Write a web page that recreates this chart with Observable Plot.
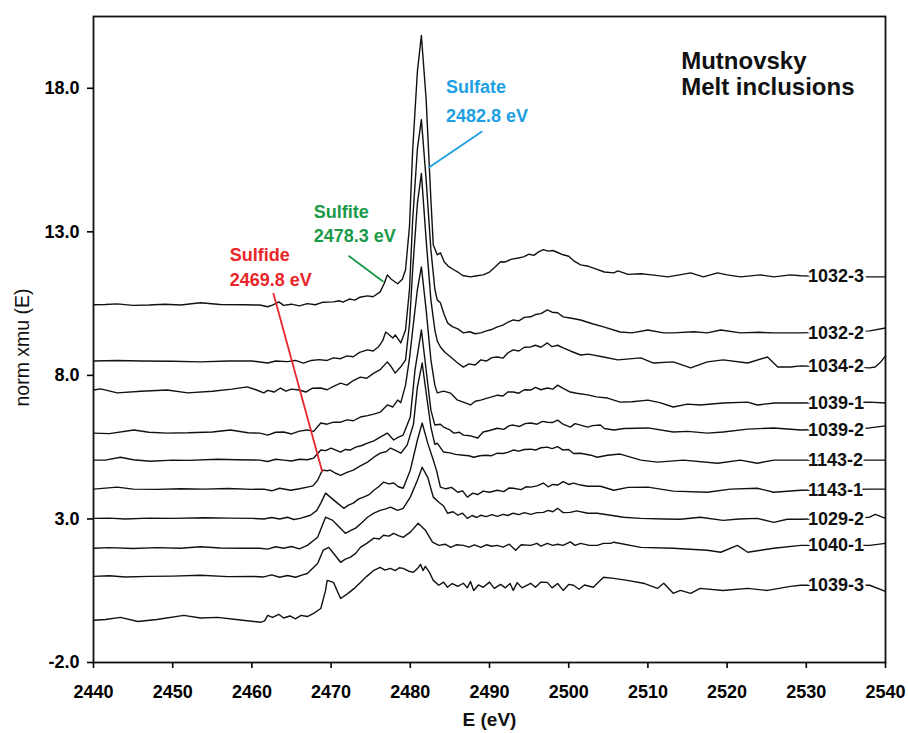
<!DOCTYPE html>
<html>
<head>
<meta charset="utf-8">
<script src="https://cdn.jsdelivr.net/npm/d3@7"></script>
<script src="https://cdn.jsdelivr.net/npm/@observablehq/plot@0.6"></script>
<style>
  html, body { margin: 0; padding: 0; background: #fff; }
  #chart { width: 908px; height: 733px; }
</style>
</head>
<body>
<div id="chart"></div>
<script>
// ---- Data (energy E in eV, normalized xmu with vertical offsets) ----
const xTicks = [2440, 2450, 2460, 2470, 2480, 2490, 2500, 2510, 2520, 2530, 2540];
const yTicks = [-2, 3, 8, 13, 18];

const s1032_3 = [[2440,10.46],[2441.5,10.47],[2443,10.49],[2445,10.44],[2447,10.45],[2449,10.48],[2451,10.45],[2453.5,10.53],[2456,10.47],[2459,10.46],[2461,10.45],[2462,10.39],[2462.6,10.45],[2463.4,10.56],[2464,10.44],[2465,10.48],[2466,10.42],[2467,10.5],[2468,10.46],[2469,10.55],[2470.3,10.56],[2471,10.6],[2471.5,10.55],[2472.3,10.66],[2473,10.62],[2473.6,10.72],[2474.6,10.77],[2475.3,10.74],[2476.2,10.91],[2476.7,11.2],[2477.1,11.5],[2477.6,11.35],[2478.4,11.19],[2479.0,11.35],[2479.4,11.68],[2479.9,13.2],[2480.3,15.86],[2480.9,18.6],[2481.4,19.84],[2482.0,17.61],[2482.6,14.12],[2482.9,12.55],[2483.4,12.2],[2483.8,12.27],[2484.3,11.95],[2484.8,11.8],[2485.5,11.68],[2486,11.6],[2486.6,11.48],[2487.6,11.43],[2488.4,11.47],[2489.2,11.5],[2490,11.6],[2490.6,11.75],[2491.4,11.96],[2492,11.95],[2492.8,12.05],[2493.5,12.08],[2494.3,12.13],[2495,12.22],[2495.6,12.18],[2496.2,12.3],[2496.8,12.38],[2497.4,12.33],[2498,12.35],[2498.6,12.28],[2499.3,12.2],[2500,12.15],[2500.6,12.0],[2501.5,11.85],[2502.5,11.8],[2503.5,11.7],[2504.5,11.6],[2505.7,11.57],[2506.2,11.64],[2507.5,11.52],[2509.1,11.54],[2510.5,11.5],[2512.5,11.43],[2514,11.5],[2515.4,11.57],[2517,11.43],[2518.8,11.57],[2520,11.5],[2521.7,11.43],[2524.2,11.5],[2525.9,11.43],[2528,11.5],[2529.3,11.47],[2538,11.43],[2540,11.43]];

const s1032_2 = [[2440,8.5],[2443,8.52],[2446,8.5],[2450,8.49],[2453.5,8.47],[2457,8.5],[2460,8.5],[2462,8.43],[2463,8.5],[2464.5,8.48],[2465.5,8.52],[2466.5,8.43],[2467.5,8.52],[2468.5,8.55],[2469.5,8.52],[2470.3,8.61],[2471.2,8.58],[2472,8.68],[2472.8,8.65],[2473.6,8.8],[2474.6,8.89],[2475.3,8.85],[2476,9.0],[2476.5,9.2],[2476.9,9.51],[2477.4,9.4],[2477.8,9.3],[2478.1,9.41],[2478.8,9.13],[2479.4,9.58],[2479.9,11.0],[2480.3,13.42],[2480.9,15.9],[2481.4,16.91],[2482.0,14.82],[2482.6,12.38],[2483.1,11.0],[2483.4,10.63],[2483.8,10.53],[2484.3,10.1],[2484.7,9.83],[2485.3,9.7],[2486,9.62],[2486.7,9.48],[2487.5,9.52],[2488.2,9.45],[2488.9,9.48],[2489.6,9.55],[2490.3,9.6],[2491,9.69],[2491.7,9.75],[2492.3,9.85],[2493,9.93],[2493.7,9.9],[2494.4,10.02],[2495.2,10.04],[2495.8,10.12],[2496.5,10.15],[2497.3,10.28],[2497.9,10.2],[2498.6,10.18],[2499.3,10.04],[2500.2,10.0],[2501.5,9.93],[2503,9.8],[2504.4,9.69],[2506.5,9.51],[2508,9.48],[2510,9.58],[2512,9.48],[2513.2,9.48],[2515.8,9.52],[2517.5,9.48],[2519.2,9.58],[2521.7,9.48],[2524,9.5],[2525.9,9.48],[2529.3,9.48],[2538,9.55],[2540,9.65]];

const s1034_2 = [[2440,7.49],[2440.9,7.53],[2443,7.39],[2446,7.45],[2449.3,7.49],[2451.9,7.39],[2455,7.45],[2457.5,7.52],[2459.4,7.6],[2460.5,7.5],[2461.5,7.39],[2462,7.48],[2462.8,7.42],[2463.6,7.56],[2464.3,7.45],[2465,7.52],[2466,7.49],[2466.8,7.42],[2467.6,7.55],[2468.7,7.56],[2469.5,7.5],[2470.3,7.62],[2471.2,7.73],[2472,7.66],[2472.8,7.82],[2473.7,7.94],[2474.5,7.9],[2475.4,8.08],[2476.2,8.2],[2477.1,8.47],[2477.6,8.3],[2478.1,8.08],[2478.8,8.3],[2479.4,8.54],[2479.9,9.8],[2480.3,11.68],[2480.9,14.0],[2481.4,15.03],[2482.0,12.72],[2482.6,10.63],[2483.1,9.58],[2483.4,9.2],[2483.8,8.99],[2484.4,8.8],[2485.1,8.64],[2485.9,8.45],[2486.7,8.29],[2487.4,8.4],[2488.2,8.36],[2488.9,8.54],[2489.6,8.5],[2490.3,8.62],[2491,8.64],[2491.7,8.6],[2492.3,8.78],[2493,8.89],[2493.7,8.85],[2494.4,8.98],[2495.2,8.99],[2495.8,9.05],[2496.5,8.98],[2497.3,9.13],[2497.9,9.0],[2498.6,9.05],[2499.3,8.96],[2500.2,8.85],[2501.5,8.71],[2502.5,8.74],[2504.4,8.64],[2506.2,8.54],[2509.1,8.61],[2510.7,8.43],[2513.2,8.47],[2515.4,8.26],[2517.5,8.47],[2519.5,8.54],[2522.6,8.43],[2525.1,8.64],[2526.4,8.29],[2528,8.29],[2529.3,8.33],[2538,8.26],[2538.7,8.29],[2539.4,8.47],[2540,8.68]];

const s1039_1 = [[2440,5.99],[2442,5.97],[2445.1,6.1],[2447,6.02],[2449.3,5.99],[2452,6.0],[2455,6.03],[2457.3,6.1],[2459.5,6.0],[2461,5.99],[2462,5.92],[2463,6.02],[2464,6.03],[2465,5.96],[2466,6.06],[2467,6.1],[2467.8,6.05],[2468.7,6.34],[2469.5,6.3],[2470.3,6.37],[2471.2,6.37],[2472,6.45],[2472.8,6.42],[2473.7,6.55],[2474.6,6.6],[2475.4,6.65],[2476.2,6.72],[2477.1,6.97],[2477.8,6.9],[2478.4,7.14],[2478.8,7.05],[2479.4,7.66],[2479.9,8.6],[2480.3,9.58],[2480.9,11.0],[2481.4,11.78],[2482.0,10.28],[2482.6,8.54],[2483.1,7.66],[2483.4,7.39],[2484.2,7.45],[2485.1,7.38],[2485.9,7.15],[2486.7,7.07],[2487.6,6.97],[2488.2,7.1],[2488.9,7.14],[2489.6,7.2],[2490.3,7.25],[2491,7.31],[2491.7,7.28],[2492.3,7.42],[2493,7.42],[2493.7,7.38],[2494.4,7.5],[2495.2,7.49],[2495.8,7.58],[2496.5,7.5],[2497.3,7.56],[2498,7.52],[2498.6,7.66],[2499.3,7.55],[2500.2,7.42],[2501,7.38],[2502.4,7.32],[2503.5,7.25],[2504.9,7.21],[2506.5,7.07],[2508,7.08],[2510,7.14],[2511.5,7.05],[2513.2,6.9],[2515,7.0],[2516.6,6.97],[2519.5,7.04],[2522.6,7.07],[2523.8,6.97],[2526,7.04],[2529.3,7.04],[2538,7.07],[2540,7.04]];

const s1039_2 = [[2440,5.05],[2441.5,5.05],[2443.4,5.15],[2445,5.06],[2447.2,5.01],[2450,5.05],[2452,5.04],[2455.7,5.08],[2458,5.06],[2461,5.05],[2462,5.0],[2463,5.08],[2464,5.05],[2465,5.02],[2466,5.08],[2467,5.06],[2467.8,5.12],[2468.7,5.4],[2469.3,5.38],[2470,5.47],[2470.6,5.4],[2471.2,5.33],[2471.8,5.42],[2472.4,5.4],[2473.1,5.5],[2473.8,5.55],[2474.6,5.64],[2475.4,5.72],[2476.2,5.85],[2477.1,5.99],[2477.9,5.75],[2478.5,5.85],[2479.1,5.92],[2480,6.55],[2480.6,8.2],[2481.4,9.58],[2482.0,8.19],[2482.6,6.79],[2483.1,6.27],[2483.8,6.3],[2484.2,6.2],[2485,6.1],[2485.5,5.99],[2486.2,6.02],[2486.7,5.92],[2487.5,5.9],[2488.5,5.82],[2489.2,6.03],[2490,6.08],[2491,6.16],[2491.8,6.12],[2492.5,6.25],[2493,6.27],[2493.8,6.22],[2494.5,6.32],[2495.2,6.34],[2496,6.3],[2496.7,6.4],[2497.3,6.37],[2498,6.36],[2498.6,6.44],[2499.3,6.3],[2500.2,6.2],[2500.8,6.32],[2501.5,6.27],[2502.4,6.2],[2503,6.25],[2504,6.27],[2504.5,6.15],[2505.7,6.1],[2507,6.15],[2510,6.17],[2513.2,6.03],[2515,6.05],[2517.5,5.99],[2519.5,6.03],[2522.6,6.13],[2525.9,6.17],[2529.3,6.1],[2538,6.17],[2540,6.24]];

const s1143_2 = [[2440,4.04],[2443,4.11],[2445,4.04],[2448,4.03],[2451,4.05],[2454,4.04],[2457,4.06],[2460,4.03],[2461.5,4.04],[2462.5,3.98],[2463.5,4.07],[2464.9,4.0],[2466,4.05],[2467,4.11],[2467.7,4.15],[2468.3,4.35],[2468.9,4.7],[2469.5,4.68],[2469.9,4.7],[2470.5,4.6],[2471.2,4.52],[2472,4.62],[2472.8,4.7],[2473.7,4.85],[2474.6,4.98],[2475.4,5.15],[2476.2,5.29],[2477,5.35],[2477.5,5.47],[2478.2,5.38],[2478.8,5.29],[2479.6,5.57],[2480.4,6.3],[2480.9,7.6],[2481.5,8.43],[2482.0,7.4],[2482.6,6.2],[2483.1,5.6],[2483.4,5.64],[2484.2,5.33],[2485,5.3],[2485.7,5.25],[2486.7,5.22],[2487.4,5.2],[2488,5.15],[2488.8,5.2],[2489.5,5.22],[2490.2,5.2],[2491,5.29],[2491.7,5.28],[2492.3,5.32],[2493,5.4],[2493.7,5.36],[2494.4,5.42],[2495.2,5.43],[2495.8,5.4],[2496.5,5.48],[2497.3,5.5],[2497.9,5.45],[2498.6,5.52],[2499.3,5.4],[2500,5.42],[2500.6,5.28],[2501.5,5.29],[2502.8,5.22],[2503.6,5.15],[2504.9,5.22],[2506.5,5.26],[2509.1,5.05],[2511.2,4.98],[2514.5,5.05],[2518.8,4.94],[2521.7,5.05],[2523.8,4.94],[2525.9,5.05],[2529.3,5.05],[2538,5.05],[2540,5.05]];

const s1143_1 = [[2440,3.02],[2442,3.03],[2444,3.0],[2447,3.03],[2450,3.02],[2454,3.04],[2457,3.03],[2460,3.02],[2461.5,3.0],[2462.5,3.05],[2463.5,3.0],[2464.5,3.06],[2465.3,2.98],[2466.1,3.02],[2467.4,3.13],[2468.2,3.3],[2468.7,3.55],[2469.3,3.9],[2469.9,3.76],[2470.8,3.55],[2471.6,3.37],[2472.2,3.48],[2472.8,3.55],[2473.5,3.7],[2474.1,3.76],[2474.8,3.85],[2475.4,4.0],[2476,4.12],[2476.6,4.28],[2477.3,4.22],[2477.9,4.25],[2478.5,4.12],[2479.1,4.07],[2480,4.7],[2480.9,5.75],[2481.5,6.34],[2482.2,5.64],[2482.9,5.05],[2483.3,4.7],[2483.8,4.11],[2484.5,4.05],[2485.2,4.1],[2486,3.93],[2486.6,3.98],[2487.2,3.76],[2487.9,3.9],[2488.5,3.85],[2489.2,3.97],[2490,3.93],[2491,4.0],[2491.8,3.95],[2492.5,4.08],[2493,4.07],[2494,4.02],[2494.6,4.12],[2495.2,4.11],[2496,4.15],[2496.8,4.25],[2497.4,4.12],[2498,4.2],[2498.6,4.18],[2499.3,4.3],[2500,4.2],[2500.6,4.25],[2501.5,4.18],[2502.4,4.14],[2504,4.14],[2505.7,4.0],[2507.5,4.1],[2510,4.11],[2513.2,3.97],[2517.5,3.93],[2520.4,4.04],[2523.8,4.07],[2525.9,3.93],[2529.3,4.0],[2538,4.04],[2540,4.04]];

const s1029_2 = [[2440,1.98],[2442,2.0],[2445,1.97],[2448,2.0],[2451,1.98],[2453.5,2.03],[2456,1.99],[2459,1.98],[2461,1.98],[2462,1.95],[2463,2.03],[2464,1.98],[2465,2.04],[2466,1.96],[2467,2.08],[2468.3,2.36],[2468.9,2.78],[2469.3,3.06],[2470.2,2.95],[2470.8,2.78],[2471.8,2.5],[2472.5,2.6],[2473.1,2.68],[2473.8,2.85],[2474.6,3.06],[2475.4,3.2],[2476.2,3.3],[2476.9,3.35],[2477.5,3.41],[2478.4,3.3],[2479.1,3.37],[2480,3.76],[2480.9,4.35],[2481.5,4.8],[2482.2,4.45],[2482.9,3.76],[2483.6,3.58],[2484.2,3.45],[2484.7,3.2],[2485.4,3.25],[2486,3.13],[2486.6,3.2],[2487.2,3.02],[2487.8,3.12],[2488.4,3.05],[2488.9,3.13],[2489.6,3.08],[2490.3,3.15],[2491,3.09],[2491.7,3.16],[2492.3,3.12],[2493,3.2],[2493.7,3.15],[2494.4,3.22],[2495.2,3.16],[2496,3.22],[2496.8,3.23],[2497.4,3.3],[2498,3.25],[2498.6,3.37],[2499.3,3.22],[2500.2,3.23],[2501,3.28],[2502.4,3.2],[2503.6,3.2],[2505.3,3.13],[2506.9,3.06],[2509.1,3.02],[2512,3.0],[2514.1,2.99],[2516.6,3.06],[2519.5,2.95],[2521.5,3.0],[2523.8,3.02],[2525.9,2.88],[2527.6,2.99],[2529.3,2.99],[2538,3.06],[2538.7,3.16],[2540,3.02]];

const s1040_1 = [[2440,1.0],[2442,1.02],[2444,0.98],[2447,1.0],[2450,1.01],[2453.5,1.04],[2457,0.99],[2460,1.0],[2461.5,0.98],[2462.5,1.05],[2463.5,0.97],[2464.5,1.03],[2465.5,0.97],[2466.5,1.06],[2467,1.1],[2468.3,1.45],[2469,1.91],[2469.7,2.01],[2470.2,1.84],[2471.2,1.49],[2471.8,1.6],[2472.4,1.66],[2473.1,1.8],[2473.7,2.01],[2474.5,2.15],[2475.4,2.33],[2476.1,2.3],[2476.6,2.43],[2477.3,2.4],[2477.9,2.5],[2478.5,2.42],[2479.1,2.36],[2480,2.54],[2481,2.85],[2481.9,2.61],[2482.8,2.19],[2483.6,2.08],[2484.4,2.12],[2485.1,2.01],[2485.8,2.1],[2486.7,2.08],[2487.4,2.02],[2488.1,2.1],[2488.9,2.01],[2489.6,2.1],[2490.3,2.05],[2491,2.08],[2491.7,2.02],[2492.5,2.12],[2493.3,1.91],[2494,2.1],[2495.2,2.08],[2496,2.15],[2496.5,2.05],[2497.3,2.15],[2498,2.08],[2498.6,2.12],[2499.3,2.08],[2500.2,2.2],[2500.8,2.08],[2501.5,2.15],[2502.6,2.08],[2503.6,2.08],[2504.4,2.15],[2505.3,2.15],[2505.7,2.19],[2509.1,2.01],[2513.2,1.98],[2517.5,1.91],[2519.2,1.84],[2521.3,2.08],[2522.6,1.84],[2525.9,1.98],[2529.3,2.08],[2538,2.08],[2540,2.15]];

const s1039_3 = [[2440,-0.53],[2441.5,-0.5],[2443.4,-0.43],[2445.6,-0.57],[2448,-0.5],[2451.4,-0.36],[2453.5,-0.45],[2455.7,-0.43],[2458,-0.5],[2461.1,-0.6],[2461.6,-0.55],[2462,-0.36],[2462.6,-0.43],[2463.4,-0.32],[2464,-0.45],[2464.8,-0.38],[2465.5,-0.48],[2466.2,-0.36],[2467,-0.4],[2467.8,-0.29],[2468.7,-0.12],[2469.3,0.51],[2469.5,0.86],[2470.3,0.79],[2471.2,0.23],[2472.1,0.4],[2473,0.6],[2473.7,0.79],[2474.5,1.0],[2475.4,1.21],[2476.2,1.31],[2476.8,1.22],[2477.5,1.28],[2478.1,1.2],[2478.6,1.3],[2479.1,1.28],[2479.8,1.18],[2480.4,1.14],[2481,1.3],[2481.3,1.42],[2481.6,1.2],[2481.9,1.35],[2482.4,1.15],[2482.9,0.86],[2483.6,0.69],[2484.2,0.8],[2484.7,0.62],[2485.3,0.75],[2486,0.65],[2486.7,0.76],[2487.2,0.6],[2487.6,0.82],[2488,0.51],[2488.6,0.7],[2489.2,0.62],[2490,0.8],[2490.6,0.58],[2491.4,0.72],[2492,0.6],[2492.6,0.75],[2493,0.51],[2493.5,0.78],[2494.1,0.6],[2495.2,0.76],[2495.8,0.62],[2496.5,0.8],[2497.3,0.79],[2497.9,0.6],[2498.6,0.75],[2499.3,0.51],[2500,0.72],[2500.6,0.69],[2501.3,0.55],[2502,0.7],[2503.1,0.62],[2504.4,0.97],[2505.7,0.93],[2507.4,0.86],[2509.6,0.75],[2511.2,0.58],[2512,0.76],[2513.2,0.41],[2514.1,0.51],[2515.4,0.41],[2516.6,0.58],[2519.5,0.51],[2522.6,0.58],[2525.1,0.51],[2528,0.65],[2529.3,0.69],[2538,0.69],[2540,0.48]];

const sampleNames = ["1032-3", "1032-2", "1034-2", "1039-1", "1039-2", "1143-2", "1143-1", "1029-2", "1040-1", "1039-3"];
const sampleSeries = [s1032_3, s1032_2, s1034_2, s1039_1, s1039_2, s1143_2, s1143_1, s1029_2, s1040_1, s1039_3];
const labelEnergy = 2530.2;   // where the sample labels sit
const labelAnchorEnergy = 2529.3; // trace value used for label height

// Annotations (species, peak energy text, colour, text position, leader line)
const annoNames = ["Sulfide", "Sulfite", "Sulfate"];
const annoEnergyText = ["2469.8 eV", "2478.3 eV", "2482.8 eV"];
const annoColors = ["#e8262a", "#1a9a48", "#1e9fe3"];
const annoTextE = [2457.2, 2467.8, 2484.5];
const annoTextY1 = [12.17, 13.70, 18.03];
const annoTextY2 = [11.33, 12.83, 17.02];
const annoLineE1 = [2462.7, 2472.2, 2489.1];
const annoLineY1 = [10.87, 12.17, 16.50];
const annoLineE2 = [2468.9, 2476.6, 2482.3];
const annoLineY2 = [4.63, 11.26, 15.23];

const titleLines = ["Mutnovsky", "Melt inclusions"];
const titleE = 2514.2;
const titleY = [18.94, 18.03];

// ---- Build tables ----
const rows = [];
sampleNames.forEach((name, i) => {
  for (const [E, v] of sampleSeries[i]) rows.push({id: name, E, v});
});
const labels = sampleNames.map((name, i) => {
  const p = sampleSeries[i].find(d => d[0] === labelAnchorEnergy);
  return {id: name, E: labelEnergy, v: p[1]};
});
const annos = annoNames.map((n, i) => ({
  name: n, eText: annoEnergyText[i], color: annoColors[i],
  tx: annoTextE[i], ty1: annoTextY1[i], ty2: annoTextY2[i],
  x1: annoLineE1[i], y1: annoLineY1[i], x2: annoLineE2[i], y2: annoLineY2[i]
}));
const titles = titleLines.map((t, i) => ({t, E: titleE, v: titleY[i]}));

const FONT = "'Liberation Sans', Arial, Helvetica, sans-serif";

const annoMarks = annos.flatMap(a => [
  Plot.link([a], {x1: "x1", y1: "y1", x2: "x2", y2: "y2", stroke: a.color, strokeWidth: 1.8}),
  Plot.text([a], {x: "tx", y: "ty1", text: "name", fill: a.color, textAnchor: "start", fontSize: 18, fontWeight: "bold"}),
  Plot.text([a], {x: "tx", y: "ty2", text: "eText", fill: a.color, textAnchor: "start", fontSize: 18, fontWeight: "bold"})
]);

const chart = Plot.plot({
  width: 908,
  height: 733,
  marginLeft: 93,
  marginRight: 23,
  marginTop: 16,
  marginBottom: 71,
  style: {fontFamily: FONT, fontSize: "18px", background: "#fff", color: "#000"},
  x: {domain: [2440, 2540], label: null},
  y: {domain: [-2, 20.5], label: null},
  marks: [
    Plot.line(rows, {x: "E", y: "v", z: "id", stroke: "#111", strokeWidth: 1.4}),
    Plot.text(labels, {x: "E", y: "v", text: "id", textAnchor: "start", fontSize: 18, fontWeight: "bold",
      fill: "#111", stroke: "white", strokeWidth: 5}),
    ...annoMarks,
    Plot.text(titles, {x: "E", y: "v", text: "t", textAnchor: "start", fontSize: 24, fontWeight: "bold", fill: "#111"}),
    Plot.frame({stroke: "#111", strokeWidth: 1.8}),
    Plot.axisX({ticks: xTicks, tickFormat: d => String(d), tickSize: 6, tickPadding: 17,
      fontSize: 18, fontWeight: "bold", strokeWidth: 1.6, label: null}),
    Plot.axisY({ticks: yTicks, tickFormat: d => d.toFixed(1), tickSize: 6, tickPadding: 8,
      fontSize: 18, fontWeight: "bold", strokeWidth: 1.6, label: null}),
    Plot.text(["norm xmu (E)"], {frameAnchor: "left", textAnchor: "middle", dx: -71, dy: 8, rotate: -90,
      fontSize: 19.5, fill: "#111"}),
    Plot.text(["E (eV)"], {frameAnchor: "bottom", dy: 63, fontSize: 19, fontWeight: "bold", fill: "#111"})
  ]
});
document.getElementById("chart").appendChild(chart);
</script>
</body>
</html>
